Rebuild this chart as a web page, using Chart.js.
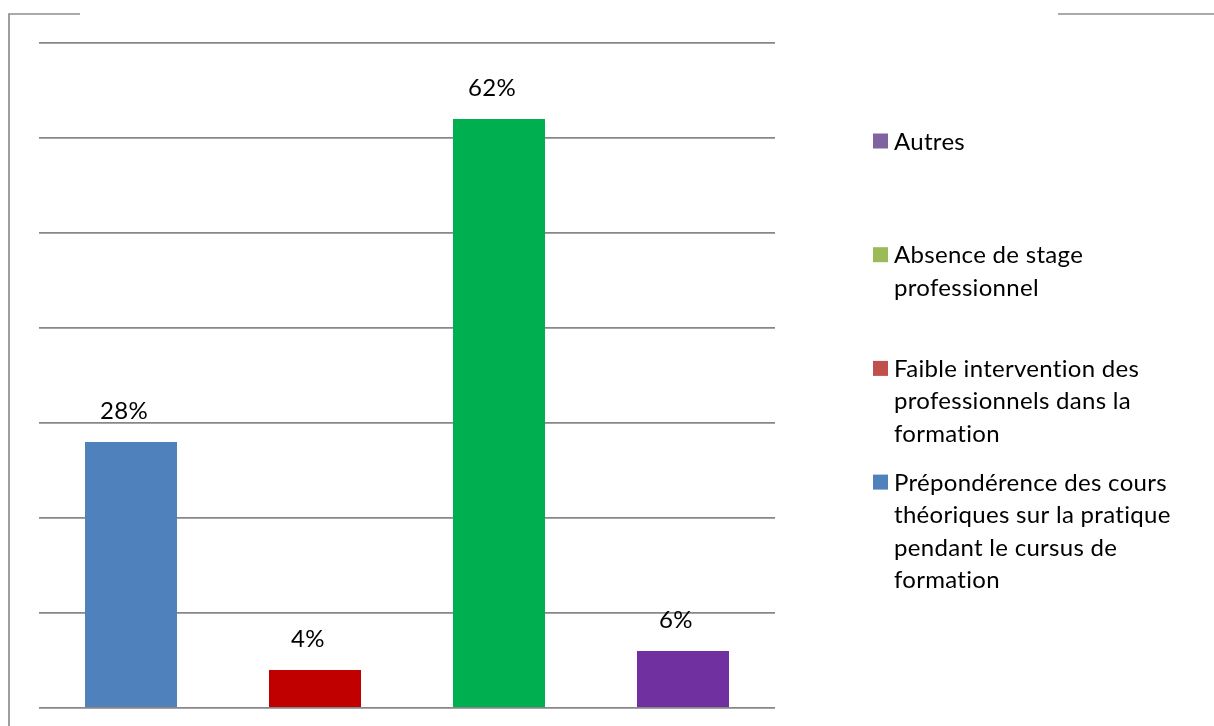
<!DOCTYPE html>
<html>
<head>
<meta charset="utf-8">
<script src="https://cdn.jsdelivr.net/npm/chart.js@4/dist/chart.umd.min.js"></script>
<style>
  html, body { margin: 0; padding: 0; background: #fff; }
  #wrap { width: 1214px; height: 726px; position: relative; }
</style>
</head>
<body>
<div id="wrap"><canvas id="chart"></canvas></div>
<script>
// categories (legend text, already broken into lines like the original)
const categories = [
  ['Prépondérence des cours', 'théoriques sur la pratique', 'pendant le cursus de', 'formation'],
  ['Faible intervention des', 'professionnels dans la', 'formation'],
  ['Absence de stage', 'professionnel'],
  ['Autres']
];
const values = [0.28, 0.04, 0.62, 0.06];
const valueLabels = ['28%', '4%', '62%', '6%'];
const barColors = ['#4F81BD', '#C00000', '#00B050', '#7030A0'];
const legendColors = ['#4F81BD', '#C0504D', '#9BBB59', '#8064A2'];
const yMax = 0.7;
const yStep = 0.1;

const FONT = 'Lato, "Open Sans", sans-serif';

// outer frame with the gap where the title sits
const framePlugin = {
  id: 'frame',
  beforeDraw(chart) {
    const ctx = chart.ctx;
    ctx.save();
    ctx.strokeStyle = '#8e8e8e';
    ctx.lineWidth = 1.7;
    ctx.beginPath();
    ctx.moveTo(9, 726);
    ctx.lineTo(9, 14);
    ctx.lineTo(80, 14);
    ctx.moveTo(1058, 14);
    ctx.lineTo(1214, 14);
    ctx.stroke();
    ctx.restore();
  }
};

// value labels above the bars
const valueLabelPlugin = {
  id: 'valueLabels',
  afterDatasetsDraw(chart) {
    const ctx = chart.ctx;
    const meta = chart.getDatasetMeta(0);
    ctx.save();
    ctx.font = '24px ' + FONT;
    ctx.letterSpacing = '0.3px';
    ctx.fillStyle = '#000';
    ctx.textAlign = 'center';
    ctx.textBaseline = 'alphabetic';
    meta.data.forEach(function (bar, i) {
      ctx.fillText(valueLabels[i], bar.x - 7, bar.y - 23);
    });
    ctx.restore();
  }
};

// legend on the right, reversed order, evenly spaced
const legendPlugin = {
  id: 'sideLegend',
  afterDraw(chart) {
    const ctx = chart.ctx;
    ctx.save();
    ctx.font = '24px ' + FONT;
    ctx.letterSpacing = '0.3px';
    ctx.textAlign = 'left';
    ctx.textBaseline = 'alphabetic';
    const n = categories.length;
    for (let k = 0; k < n; k++) {
      const i = n - 1 - k;
      const cy = 141 + k * 113.7;
      ctx.fillStyle = legendColors[i];
      ctx.fillRect(873, cy - 7.5, 15, 15);
      ctx.fillStyle = '#000';
      categories[i].forEach(function (line, l) {
        ctx.fillText(line, 894, cy + 8.5 + l * 32.5);
      });
    }
    ctx.restore();
  }
};

new Chart(document.getElementById('chart').getContext('2d'), {
  type: 'bar',
  data: {
    labels: categories,
    datasets: [{
      data: values,
      backgroundColor: barColors,
      borderWidth: 0,
      barPercentage: 0.5,
      categoryPercentage: 1.0
    }]
  },
  options: {
    responsive: true,
    maintainAspectRatio: false,
    animation: false,
    layout: { padding: { left: 39, right: 439, top: 43, bottom: 18 } },
    plugins: {
      legend: { display: false },
      tooltip: { enabled: false }
    },
    scales: {
      x: { display: false },
      y: {
        min: 0,
        max: yMax,
        ticks: { display: false, stepSize: yStep },
        border: { display: false },
        grid: { color: '#878787', lineWidth: 1.8, drawTicks: false }
      }
    }
  },
  plugins: [framePlugin, valueLabelPlugin, legendPlugin]
});
</script>
</body>
</html>
